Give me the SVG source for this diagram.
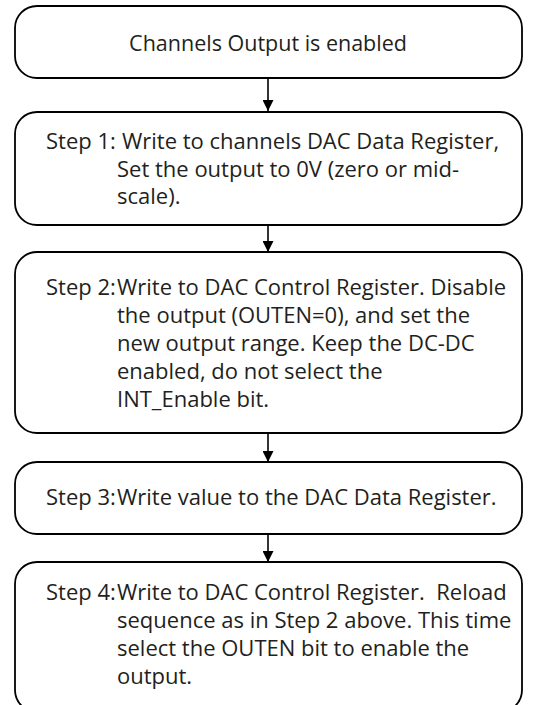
<svg xmlns="http://www.w3.org/2000/svg" width="550" height="705" viewBox="0 0 550 705">
<defs>
<style>
.box{fill:#fff;stroke:#000;stroke-width:1.8}
.t{font-family:"Open Sans","Noto Sans","Liberation Sans",sans-serif;font-size:22px;fill:#231f20}
.h{font-size:21.5px}
.c{stroke:#000;stroke-width:1.6;fill:none}
</style>
<marker id="ah" viewBox="0 0 10 10" refX="10" refY="5" markerWidth="11" markerHeight="11" markerUnits="userSpaceOnUse" orient="auto">
<path d="M0,0 L10,5 L0,10 Z" fill="#000"/>
</marker>
</defs>
<rect width="550" height="705" fill="#fff"/>
<g id="connectors">
<line class="c" x1="268" y1="78" x2="268" y2="111" marker-end="url(#ah)"/>
<line class="c" x1="268" y1="225" x2="268" y2="252" marker-end="url(#ah)"/>
<line class="c" x1="268" y1="433" x2="268" y2="462" marker-end="url(#ah)"/>
<line class="c" x1="268" y1="534" x2="268" y2="562" marker-end="url(#ah)"/>
</g>
<g id="n0">
<rect class="box" x="15" y="6" width="507" height="72" rx="22"/>
<text class="t h" x="268" y="51" text-anchor="middle">Channels Output is enabled</text>
</g>
<g id="n1">
<rect class="box" x="15" y="112" width="507" height="113" rx="22"/>
<text class="t" x="46" y="149">Step 1:</text>
<text class="t" x="122" y="149">Write to channels DAC Data Register,</text>
<text class="t" x="117" y="176.5">Set the output to 0V (zero or mid-</text>
<text class="t" x="117" y="204">scale).</text>
</g>
<g id="n2">
<rect class="box" x="15" y="252" width="507" height="181" rx="22"/>
<text class="t" x="46" y="295">Step 2:</text>
<text class="t" x="117" y="295">Write to DAC Control Register. Disable</text>
<text class="t" x="117" y="323">the output (OUTEN=0), and set the</text>
<text class="t" x="117" y="351">new output range. Keep the DC-DC</text>
<text class="t" x="117" y="379">enabled, do not select the</text>
<text class="t" x="117" y="407">INT_Enable bit.</text>
</g>
<g id="n3">
<rect class="box" x="15" y="462" width="507" height="72" rx="22"/>
<text class="t" x="46" y="505">Step 3:</text>
<text class="t" x="117" y="505">Write value to the DAC Data Register.</text>
</g>
<g id="n4">
<rect class="box" x="15" y="562" width="507" height="150" rx="22"/>
<text class="t" x="46" y="600">Step 4:</text>
<text class="t" x="117" y="600">Write to DAC Control Register.&#160; Reload</text>
<text class="t" x="117" y="628">sequence as in Step 2 above. This time</text>
<text class="t" x="117" y="656">select the OUTEN bit to enable the</text>
<text class="t" x="117" y="684">output.</text>
</g>
</svg>
